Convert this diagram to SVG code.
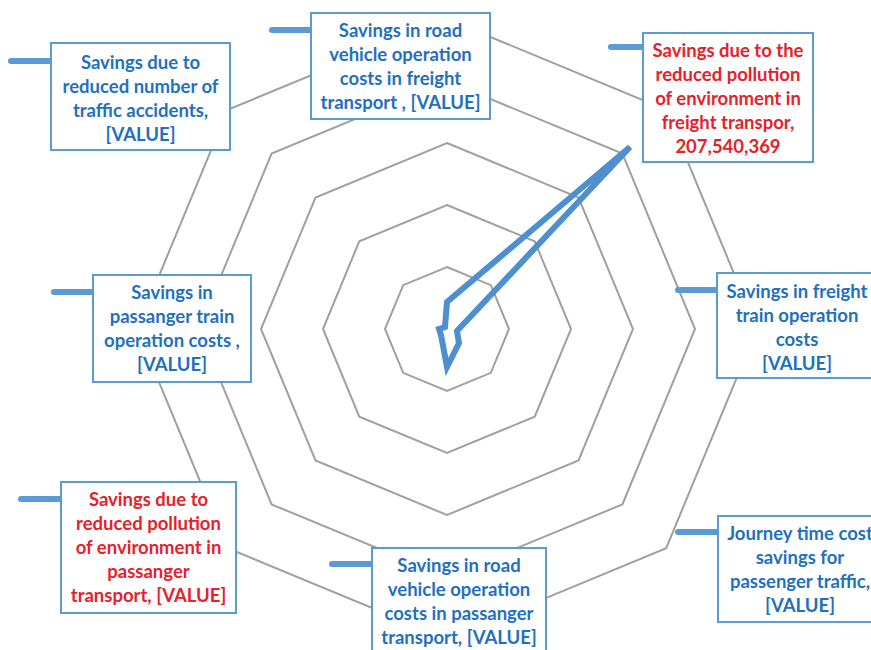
<svg xmlns="http://www.w3.org/2000/svg" width="871" height="650" viewBox="0 0 871 650">
<style>
.ring{fill:none;stroke:#a0a0a0;stroke-width:2}
.series{fill:none;stroke:#4e8fcf;stroke-width:6;stroke-linejoin:miter;stroke-miterlimit:10}
.box{fill:#ffffff;stroke:#5b9bd5;stroke-width:2}
.key{stroke:#5b9bd5;stroke-width:6;stroke-linecap:round}
.t{font-family:Lato,"Liberation Sans",sans-serif;font-weight:bold;font-size:18.5px;text-anchor:middle}
.blue{fill:#1f70c1}
.red{fill:#e8202a}
</style>
<rect width="871" height="650" fill="#ffffff"/>
<g id="grid">
<polygon class="ring" points="447,267 490.8,285.2 509,329 490.8,372.8 447,391 403.2,372.8 385,329 403.2,285.2"/>
<polygon class="ring" points="447,205 534.7,241.3 571,329 534.7,416.7 447,453 359.3,416.7 323,329 359.3,241.3"/>
<polygon class="ring" points="447,143 578.5,197.5 633,329 578.5,460.5 447,515 315.5,460.5 261,329 315.5,197.5"/>
<polygon class="ring" points="447,81 622.4,153.6 695,329 622.4,504.4 447,577 271.6,504.4 199,329 271.6,153.6"/>
<polygon class="ring" points="447,19 666.2,109.8 757,329 666.2,548.2 447,639 227.8,548.2 137,329 227.8,109.8"/>
</g>
<g id="connectors">
<polygon class="series" points="447,302 630,147 457,331 459,343 447,367 441,335 439,329 445,327"/>
</g>
<g id="node-accidents">
<line class="key" x1="11" y1="61" x2="51" y2="61"/>
<rect class="box" x="51" y="43" width="179" height="107"/>
<text class="t blue" x="140.5" y="68.5">Savings due to</text>
<text class="t blue" x="140.5" y="92.5">reduced number of</text>
<text class="t blue" x="140.5" y="116.5">traffic accidents,</text>
<text class="t blue" x="140.5" y="140.5">[VALUE]</text>
</g>
<g id="node-road-freight">
<line class="key" x1="272" y1="30" x2="311" y2="30"/>
<rect class="box" x="311" y="13" width="179" height="106"/>
<text class="t blue" x="400.5" y="37">Savings in road</text>
<text class="t blue" x="400.5" y="61">vehicle operation</text>
<text class="t blue" x="400.5" y="85">costs in freight</text>
<text class="t blue" x="400.5" y="109">transport , [VALUE]</text>
</g>
<g id="node-pollution-freight">
<line class="key" x1="611" y1="47" x2="643" y2="47"/>
<rect class="box" x="643" y="33" width="170" height="129"/>
<text class="t red" x="728" y="57">Savings due to the</text>
<text class="t red" x="728" y="81">reduced pollution</text>
<text class="t red" x="728" y="105">of environment in</text>
<text class="t red" x="728" y="129">freight transpor,</text>
<text class="t red" x="728" y="153">207,540,369</text>
</g>
<g id="node-freight-train">
<line class="key" x1="678" y1="290" x2="717" y2="290"/>
<rect class="box" x="717" y="273" width="160" height="105"/>
<text class="t blue" x="797" y="297.5">Savings in freight</text>
<text class="t blue" x="797" y="321.5">train operation</text>
<text class="t blue" x="797" y="345.5">costs</text>
<text class="t blue" x="797" y="369.5">[VALUE]</text>
</g>
<g id="node-journey-time">
<line class="key" x1="678" y1="532" x2="718" y2="532"/>
<rect class="box" x="718" y="516" width="164" height="106"/>
<text class="t blue" x="800" y="540">Journey time cost</text>
<text class="t blue" x="800" y="564">savings for</text>
<text class="t blue" x="800" y="588">passenger traffic,</text>
<text class="t blue" x="800" y="612">[VALUE]</text>
</g>
<g id="node-road-passenger">
<line class="key" x1="332" y1="564" x2="372" y2="564"/>
<rect class="box" x="372" y="548" width="174" height="110"/>
<text class="t blue" x="459" y="571.5">Savings in road</text>
<text class="t blue" x="459" y="595.5">vehicle operation</text>
<text class="t blue" x="459" y="619.5">costs in passanger</text>
<text class="t blue" x="459" y="643.5">transport, [VALUE]</text>
</g>
<g id="node-pollution-passenger">
<line class="key" x1="21" y1="499" x2="61" y2="499"/>
<rect class="box" x="61" y="482" width="175" height="131"/>
<text class="t red" x="148.5" y="506">Savings due to</text>
<text class="t red" x="148.5" y="530">reduced pollution</text>
<text class="t red" x="148.5" y="554">of environment in</text>
<text class="t red" x="148.5" y="578">passanger</text>
<text class="t red" x="148.5" y="602">transport, [VALUE]</text>
</g>
<g id="node-passenger-train">
<line class="key" x1="54" y1="292" x2="93" y2="292"/>
<rect class="box" x="93" y="275" width="158" height="107"/>
<text class="t blue" x="172" y="298.5">Savings in</text>
<text class="t blue" x="172" y="322.5">passanger train</text>
<text class="t blue" x="172" y="346.5">operation costs ,</text>
<text class="t blue" x="172" y="370.5">[VALUE]</text>
</g>
</svg>
